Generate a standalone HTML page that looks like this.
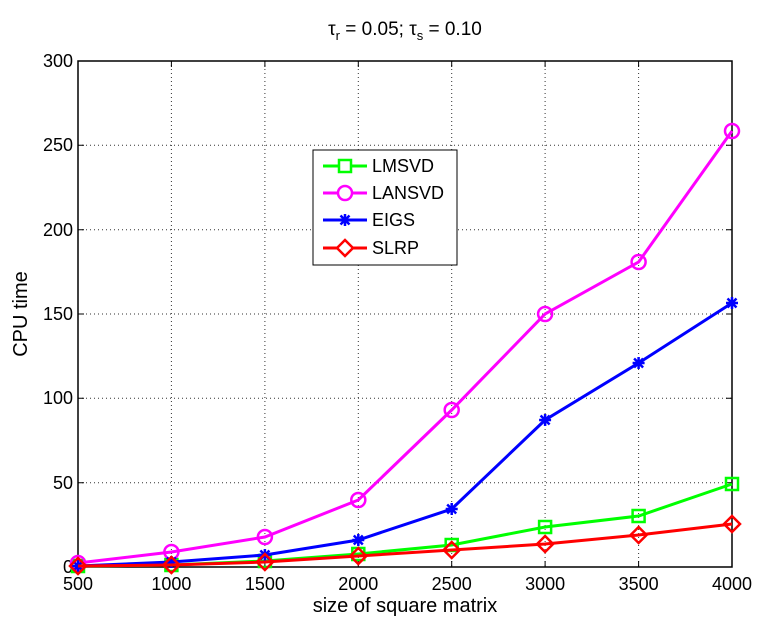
<!DOCTYPE html><html><head><style>body{margin:0;background:#fff}</style></head><body>
<svg width="781" height="628" xmlns="http://www.w3.org/2000/svg" font-family="Liberation Sans, sans-serif">
<defs><path id="st" d="M-6 0h12M0 -6v12M-4.5 -4.5l9 9M-4.5 4.5l9 -9" stroke="#00f" stroke-width="2.5" fill="none"/></defs>
<rect width="781" height="628" fill="#fff"/>
<g stroke="#000" stroke-width="1" stroke-dasharray="1,3" opacity="0.8">
<line x1="171.4" y1="61" x2="171.4" y2="567"/><line x1="264.9" y1="61" x2="264.9" y2="567"/><line x1="358.3" y1="61" x2="358.3" y2="567"/><line x1="451.7" y1="61" x2="451.7" y2="567"/><line x1="545.1" y1="61" x2="545.1" y2="567"/><line x1="638.6" y1="61" x2="638.6" y2="567"/>
<line x1="78" y1="482.7" x2="732" y2="482.7"/><line x1="78" y1="398.3" x2="732" y2="398.3"/><line x1="78" y1="314" x2="732" y2="314"/><line x1="78" y1="229.7" x2="732" y2="229.7"/><line x1="78" y1="145.3" x2="732" y2="145.3"/>
</g>
<rect x="78" y="61" width="654" height="506" fill="none" stroke="#000" stroke-width="1.5"/>
<g stroke="#000" stroke-width="1">
<path d="M171.4 567v-6M264.9 567v-6M358.3 567v-6M451.7 567v-6M545.1 567v-6M638.6 567v-6M171.4 61v6M264.9 61v6M358.3 61v6M451.7 61v6M545.1 61v6M638.6 61v6"/>
<path d="M78 482.7h6M78 398.3h6M78 314h6M78 229.7h6M78 145.3h6M732 482.7h-6M732 398.3h-6M732 314h-6M732 229.7h-6M732 145.3h-6"/>
</g>
<g font-size="18" text-anchor="middle">
<text x="78" y="590">500</text><text x="171.4" y="590">1000</text><text x="264.9" y="590">1500</text><text x="358.3" y="590">2000</text><text x="451.7" y="590">2500</text><text x="545.1" y="590">3000</text><text x="638.6" y="590">3500</text><text x="732" y="590">4000</text>
</g>
<g font-size="18" text-anchor="end">
<text x="73" y="573">0</text><text x="73" y="489">50</text><text x="73" y="404">100</text><text x="73" y="320">150</text><text x="73" y="236">200</text><text x="73" y="151">250</text><text x="73" y="67">300</text>
</g>
<text x="405" y="612" font-size="20" text-anchor="middle">size of square matrix</text>
<text transform="translate(27,314) rotate(-90)" font-size="20" text-anchor="middle">CPU time</text>
<text x="405" y="35" font-size="19" text-anchor="middle">τ<tspan font-size="13" dy="5">r</tspan><tspan dy="-5"> = 0.05; τ</tspan><tspan font-size="13" dy="5">s</tspan><tspan dy="-5"> = 0.10</tspan></text>
<g fill="none" stroke-width="3">
<polyline stroke="#0f0" points="78,566 171.4,565 264.9,561 358.3,554 451.7,545 545.1,527 638.6,516 732,484"/>
<g stroke="#0f0" stroke-width="2.5"><rect x="72" y="560" width="12" height="12"/><rect x="165.4" y="559" width="12" height="12"/><rect x="258.9" y="555" width="12" height="12"/><rect x="352.3" y="548" width="12" height="12"/><rect x="445.7" y="539" width="12" height="12"/><rect x="539.1" y="521" width="12" height="12"/><rect x="632.6" y="510" width="12" height="12"/><rect x="726" y="478" width="12" height="12"/></g>
<polyline stroke="#f0f" points="78,563 171.4,552 264.9,537 358.3,500 451.7,410 545.1,314 638.6,262 732,131"/>
<g stroke="#f0f" stroke-width="2.5"><circle cx="78" cy="563" r="7"/><circle cx="171.4" cy="552" r="7"/><circle cx="264.9" cy="537" r="7"/><circle cx="358.3" cy="500" r="7"/><circle cx="451.7" cy="410" r="7"/><circle cx="545.1" cy="314" r="7"/><circle cx="638.6" cy="262" r="7"/><circle cx="732" cy="131" r="7"/></g>
<polyline stroke="#00f" points="78,566 171.4,562 264.9,555 358.3,540 451.7,509 545.1,420 638.6,363 732,303"/>
<use href="#st" x="78" y="566"/><use href="#st" x="171.4" y="562"/><use href="#st" x="264.9" y="555"/><use href="#st" x="358.3" y="540"/><use href="#st" x="451.7" y="509"/><use href="#st" x="545.1" y="420"/><use href="#st" x="638.6" y="363"/><use href="#st" x="732" y="303"/>
<polyline stroke="#f00" points="78,566 171.4,565 264.9,562 358.3,556 451.7,550 545.1,544 638.6,535 732,524"/>
<g stroke="#f00" stroke-width="2.5"><path d="M78 558l8 8-8 8-8-8z"/><path d="M171.4 557l8 8-8 8-8-8z"/><path d="M264.9 554l8 8-8 8-8-8z"/><path d="M358.3 548l8 8-8 8-8-8z"/><path d="M451.7 542l8 8-8 8-8-8z"/><path d="M545.1 536l8 8-8 8-8-8z"/><path d="M638.6 527l8 8-8 8-8-8z"/><path d="M732 516l8 8-8 8-8-8z"/></g>
</g>
<rect x="313" y="150" width="144" height="115" fill="#fff" stroke="#000" stroke-width="1"/>
<g stroke-width="3" fill="none">
<line x1="323" y1="166" x2="367" y2="166" stroke="#0f0"/><rect x="339" y="160" width="12" height="12" stroke="#0f0" stroke-width="2.5" fill="#fff"/>
<line x1="323" y1="193" x2="367" y2="193" stroke="#f0f"/><circle cx="345" cy="193" r="7" stroke="#f0f" stroke-width="2.5" fill="#fff"/>
<line x1="323" y1="220" x2="367" y2="220" stroke="#00f"/><use href="#st" x="345" y="220"/>
<line x1="323" y1="248" x2="367" y2="248" stroke="#f00"/><path d="M345 240l8 8-8 8-8-8z" stroke="#f00" stroke-width="2.5" fill="#fff"/>
</g>
<g font-size="18"><text x="372" y="172">LMSVD</text><text x="372" y="199">LANSVD</text><text x="372" y="226">EIGS</text><text x="372" y="254">SLRP</text></g>
</svg>
</body></html>
